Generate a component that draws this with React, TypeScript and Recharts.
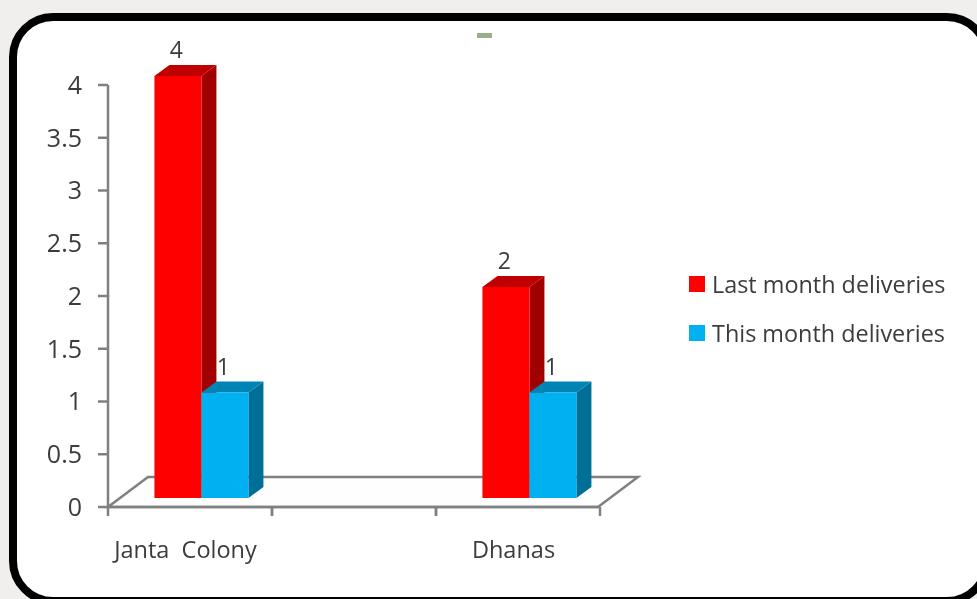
import React from 'react';
import { BarChart, Bar, XAxis, YAxis, Legend, LabelList, usePlotArea } from 'recharts';

const categories = ['Janta  Colony', '', 'Dhanas'];
const lastMonth = [4, null, 2];
const thisMonth = [1, null, 1];
const yTicks = [0, 0.5, 1, 1.5, 2, 2.5, 3, 3.5, 4];

const data = categories.map((name, i) => ({ name, last: lastMonth[i], current: thisMonth[i] }));

const FONT = '"Open Sans", sans-serif';
const TEXT = '#3c3c3c';
const AXIS = '#808080';
const SHIFT_X = 11;
const SHIFT_Y = -9;
const DEPTH_X = 15;
const DEPTH_Y = -11;

const Box3D = (props: any) => {
  const { x, y, width, height, front, top, side } = props;
  if (!height) return null;
  const l = x + SHIFT_X;
  const r = l + width;
  const t = y + SHIFT_Y;
  const b = t + height;
  return (
    <g>
      <polygon points={`${r},${t} ${r + DEPTH_X},${t + DEPTH_Y} ${r + DEPTH_X},${b + DEPTH_Y} ${r},${b}`} fill={side} />
      <polygon points={`${l},${t} ${l + DEPTH_X},${t + DEPTH_Y} ${r + DEPTH_X},${t + DEPTH_Y} ${r},${t}`} fill={top} />
      <rect x={l} y={t} width={width} height={height} fill={front} />
    </g>
  );
};

const TopLabel = (props: any) => {
  const { x, y, width, value } = props;
  if (value === null || value === undefined) return null;
  return (
    <text x={x + width / 2 + 9.5} y={y - 27} textAnchor="middle" fontFamily={FONT} fontSize={23} fill={TEXT}>
      {value}
    </text>
  );
};

// the slanted floor under the bars
const Floor = () => {
  const plot = usePlotArea();
  if (!plot) return null;
  const left = plot.x;
  const right = plot.x + plot.width;
  const base = plot.y + plot.height;
  return (
    <polygon
      points={`${left},${base} ${left + 40},${base - 30} ${right + 38},${base - 30} ${right - 2},${base}`}
      fill="#fefefe"
      stroke={AXIS}
      strokeWidth={2.5}
    />
  );
};

const CategoryTick = (props: any) => {
  const plot = usePlotArea();
  const { x, y, payload } = props;
  const half = plot ? plot.width / categories.length / 2 : 0;
  return (
    <g>
      <line x1={x - half} x2={x - half} y1={y - 8} y2={y + 1} stroke={AXIS} strokeWidth={2.5} />
      <line x1={x + half} x2={x + half} y1={y - 8} y2={y + 1} stroke={AXIS} strokeWidth={2.5} />
      <text
        x={x - 4.5}
        y={y + 43}
        textAnchor="middle"
        fontFamily={FONT}
        fontSize={23.5}
        fill={TEXT}
        style={{ whiteSpace: 'pre' }}
      >
        {payload.value}
      </text>
    </g>
  );
};

const LegendBox = ({ payload }: any) => (
  <div style={{ fontFamily: FONT, fontSize: 23.4, color: TEXT }}>
    {(payload || []).map((item: any) => (
      <div key={item.value} style={{ display: 'flex', alignItems: 'center', height: 49 }}>
        <span style={{ width: 16, height: 16, background: item.color, marginRight: 7 }} />
        <span>{item.value}</span>
      </div>
    ))}
  </div>
);

export default function App() {
  return (
    <div style={{ position: 'fixed', left: 0, top: 0, width: 977, height: 599, overflow: 'hidden', background: '#f0efed' }}>
      <div
        style={{
          position: 'absolute',
          left: 9,
          top: 13,
          width: 982,
          height: 592,
          boxSizing: 'border-box',
          border: '8px solid #000',
          borderRadius: 44,
          background: '#fff',
        }}
      />
      <div style={{ position: 'absolute', left: 477, top: 33, width: 15, height: 5, background: '#9aae8c' }} />
      <div style={{ position: 'absolute', left: 0, top: 0, filter: 'blur(0.5px)' }}>
        <BarChart
          width={977}
          height={599}
          data={data}
          margin={{ top: 85, right: 377, bottom: 0, left: 0 }}
          barCategoryGap="21.6%"
          barGap={0}
        >
          <Floor />
          <XAxis
            dataKey="name"
            interval={0}
            tick={<CategoryTick />}
            tickLine={false}
            height={92}
            axisLine={{ stroke: AXIS, strokeWidth: 2.5 }}
          />
          <YAxis
            width={108}
            domain={[0, 4]}
            ticks={yTicks}
            interval={0}
            tickSize={10}
            tickMargin={16}
            tick={{ fontFamily: FONT, fontSize: 25, fill: TEXT }}
            tickLine={{ stroke: AXIS, strokeWidth: 2.5 }}
            axisLine={{ stroke: AXIS, strokeWidth: 2.5 }}
          />
          <Legend
            layout="vertical"
            align="center"
            verticalAlign="middle"
            content={<LegendBox />}
            wrapperStyle={{ left: 689, top: 259, width: 280, bottom: 'auto', right: 'auto' }}
          />
          <Bar
            dataKey="last"
            name="Last month deliveries"
            fill="#ff0000"
            isAnimationActive={false}
            shape={<Box3D front="#ff0000" top="#c00000" side="#a00000" />}
          >
            <LabelList dataKey="last" content={<TopLabel />} />
          </Bar>
          <Bar
            dataKey="current"
            name="This month deliveries"
            fill="#00b0f0"
            isAnimationActive={false}
            shape={<Box3D front="#00b0f0" top="#0084b4" side="#006f98" />}
          >
            <LabelList dataKey="current" content={<TopLabel />} />
          </Bar>
        </BarChart>
      </div>
    </div>
  );
}
